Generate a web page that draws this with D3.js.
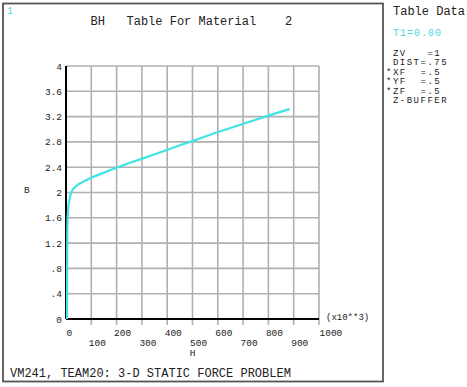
<!DOCTYPE html>
<html>
<head>
<meta charset="utf-8">
<script src="https://cdn.jsdelivr.net/npm/d3@7"></script>
<style>
  body { margin: 0; background: #fff; }
  text { font-family: "Liberation Mono", "DejaVu Sans Mono", monospace; fill: #222; }
</style>
</head>
<body>
<div id="chart"></div>
<script>
// BH curve, H in units of 10**3
const hValues = [0, 0.3, 0.6, 1, 2, 4, 7, 10, 15, 22, 30, 42, 60, 100, 150, 200, 300, 400, 500, 600, 700, 800, 880];
const bValues = [0, 0.6, 1.0, 1.3, 1.55, 1.7, 1.82, 1.9, 1.98, 2.04, 2.08, 2.12, 2.16, 2.24, 2.32, 2.40, 2.54, 2.68, 2.82, 2.96, 3.09, 3.22, 3.32];
const xTicks = [0, 100, 200, 300, 400, 500, 600, 700, 800, 900, 1000];
const yTicks = [0, 0.4, 0.8, 1.2, 1.6, 2, 2.4, 2.8, 3.2, 3.6, 4];
const yTickLabels = ['0', '.4', '.8', '1.2', '1.6', '2', '2.4', '2.8', '3.2', '3.6', '4'];
const sideLines = [' ZV   =1', ' DIST=.75', '*XF  =.5', '*YF  =.5', '*ZF  =.5', ' Z-BUFFER'];

const width = 467, height = 387;

const svg = d3.select('#chart')
  .append('svg')
  .attr('width', width)
  .attr('height', height);

const x = d3.scaleLinear().domain([0, 1000]).range([66, 319]);
const y = d3.scaleLinear().domain([0, 4]).range([319, 66]);

// frame
svg.append('rect')
  .attr('x', 3).attr('y', 3.5)
  .attr('width', 380).attr('height', 378)
  .attr('fill', 'none')
  .attr('stroke', '#555')
  .attr('stroke-width', 1.8);

svg.append('text').attr('x', 7).attr('y', 14)
  .style('font-size', '10px').style('fill', '#4cd8e0').text('1');

svg.append('text').attr('x', 90.5).attr('y', 25)
  .attr('xml:space', 'preserve')
  .style('font-size', '12px')
  .text('BH   Table For Material    2');

// grid
const grid = svg.append('g')
  .attr('stroke', '#b0b0b0')
  .attr('stroke-width', 1.6);
grid.selectAll('line.vx')
  .data(xTicks.slice(1))
  .join('line')
  .attr('class', 'vx')
  .attr('x1', (d) => x(d)).attr('x2', (d) => x(d))
  .attr('y1', y(4)).attr('y2', y(0) + 6);
grid.selectAll('line.hy')
  .data(yTicks.slice(1))
  .join('line')
  .attr('class', 'hy')
  .attr('x1', x(0)).attr('x2', x(1000))
  .attr('y1', (d) => y(d)).attr('y2', (d) => y(d));

// axes
svg.append('line')
  .attr('x1', x(0)).attr('x2', x(1000))
  .attr('y1', y(0)).attr('y2', y(0))
  .attr('stroke', '#000').attr('stroke-width', 2);
svg.append('line')
  .attr('x1', x(0)).attr('x2', x(0))
  .attr('y1', y(0)).attr('y2', y(4))
  .attr('stroke', '#000').attr('stroke-width', 2);

// tick labels
svg.selectAll('text.ylab')
  .data(yTicks)
  .join('text')
  .attr('class', 'ylab')
  .attr('x', 62)
  .attr('y', (d) => y(d) + 3.5)
  .attr('text-anchor', 'end')
  .style('font-size', '9.5px')
  .text((d, i) => yTickLabels[i]);

svg.selectAll('text.xlab')
  .data(xTicks)
  .join('text')
  .attr('class', 'xlab')
  .attr('x', (d) => x(d) - (d === 0 || d === 1000 ? -0.5 : 2.5))
  .attr('y', (d, i) => (i % 2 === 0 ? 336 : 346))
  .style('font-size', '9.5px')
  .text((d) => d);

svg.append('text').attr('x', x(500)).attr('y', 356)
  .attr('text-anchor', 'middle').style('font-size', '9.5px').text('H');
svg.append('text').attr('x', 24).attr('y', 193)
  .style('font-size', '9.5px').text('B');
svg.append('text').attr('x', 326).attr('y', 320)
  .style('font-size', '9px').text('(x10**3)');

// curve
const pts = hValues.map((h, i) => [h, bValues[i]]);
const line = d3.line()
  .x((d) => x(d[0]) + 1)
  .y((d) => y(d[1]))
  .curve(d3.curveMonotoneX);
svg.append('path')
  .attr('d', line(pts))
  .attr('fill', 'none')
  .attr('stroke', '#3fe3e6')
  .attr('stroke-width', 2.2);

// footer
svg.append('text').attr('x', 10).attr('y', 377)
  .style('font-size', '12px')
  .text('VM241, TEAM20: 3-D STATIC FORCE PROBLEM');

// side panel
svg.append('text').attr('x', 393).attr('y', 15)
  .style('font-size', '12px').text('Table Data');
svg.append('text').attr('x', 393).attr('y', 36)
  .style('font-size', '10px').style('letter-spacing', '1px')
  .style('fill', '#4cd8e0').text('T1=0.00');
svg.selectAll('text.side')
  .data(sideLines)
  .join('text')
  .attr('class', 'side')
  .attr('xml:space', 'preserve')
  .attr('x', 386)
  .attr('y', (d, i) => 56 + i * 9.4)
  .style('font-size', '9px')
  .style('letter-spacing', '1.5px')
  .text((d) => d);
</script>
</body>
</html>
